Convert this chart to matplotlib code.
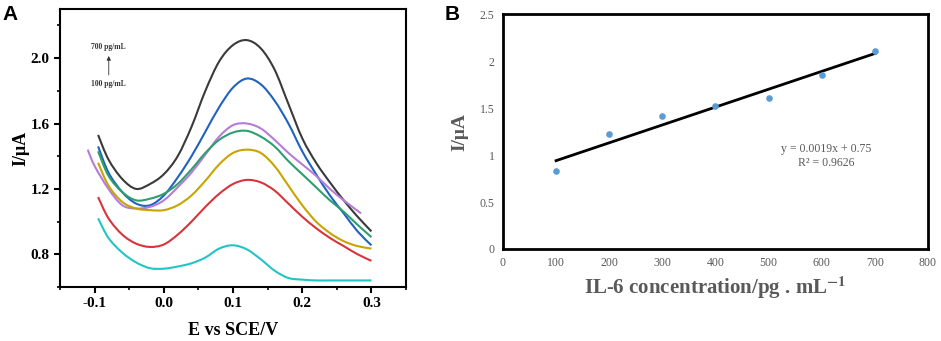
import numpy as np
import matplotlib
matplotlib.use("Agg")
import matplotlib.pyplot as plt
from matplotlib.path import Path
from matplotlib.patches import PathPatch

plt.rcParams["font.family"] = ["Liberation Serif", "DejaVu Serif"]
plt.rcParams["mathtext.fontset"] = "stix"

# ---- panel A : DPV curves ----
E = [-0.095, -0.08, -0.06, -0.04, -0.02, 0.0, 0.02, 0.04, 0.06, 0.08, 0.10,
     0.12, 0.14, 0.16, 0.18, 0.20, 0.22, 0.24, 0.26, 0.28, 0.30]
E_purple = [-0.11, -0.10, -0.08, -0.06, -0.04, -0.02, 0.0, 0.02, 0.04, 0.06, 0.08,
            0.10, 0.12, 0.14, 0.16, 0.18, 0.20, 0.22, 0.24, 0.26, 0.285]

i_black = [1.53, 1.38, 1.26, 1.20, 1.23, 1.29, 1.40, 1.58, 1.80, 1.98, 2.08,
           2.11, 2.06, 1.93, 1.72, 1.51, 1.36, 1.24, 1.13, 1.03, 0.94]
i_blue = [1.46, 1.30, 1.18, 1.11, 1.10, 1.16, 1.27, 1.40, 1.55, 1.70, 1.82,
          1.875, 1.84, 1.74, 1.60, 1.43, 1.29, 1.16, 1.05, 0.94, 0.855]
i_green = [1.43, 1.28, 1.18, 1.13, 1.14, 1.17, 1.23, 1.32, 1.42, 1.50, 1.545,
           1.555, 1.52, 1.46, 1.37, 1.29, 1.21, 1.13, 1.06, 0.98, 0.905]
i_purple = [1.44, 1.34, 1.20, 1.10, 1.08, 1.09, 1.13, 1.21, 1.30, 1.41, 1.52,
            1.59, 1.60, 1.57, 1.50, 1.42, 1.35, 1.28, 1.20, 1.13, 1.05]
i_gold = [1.36, 1.22, 1.12, 1.08, 1.07, 1.07, 1.10, 1.16, 1.25, 1.35, 1.42,
          1.44, 1.42, 1.34, 1.22, 1.10, 1.00, 0.93, 0.88, 0.85, 0.835]
i_red = [1.15, 1.02, 0.92, 0.865, 0.845, 0.86, 0.92, 1.00, 1.09, 1.17, 1.23,
         1.255, 1.24, 1.19, 1.11, 1.03, 0.96, 0.90, 0.85, 0.80, 0.76]
i_cyan = [1.02, 0.90, 0.81, 0.75, 0.715, 0.712, 0.725, 0.745, 0.78, 0.835, 0.855,
          0.83, 0.77, 0.70, 0.655, 0.645, 0.64, 0.64, 0.64, 0.64, 0.64]

# ---- panel B : calibration ----
conc = [100, 200, 300, 400, 500, 600, 700]
peak = [0.83, 1.22, 1.41, 1.52, 1.61, 1.85, 2.11]
slope, intercept = 0.0019, 0.75


def smooth_path(xs, ys):
	"""Bezier path through the points (Catmull-Rom style tangents)."""
	p = np.column_stack([xs, ys])
	verts = [p[0]]
	codes = [Path.MOVETO]
	for k in range(len(p) - 1):
		p0 = p[k - 1] if k > 0 else p[k]
		p3 = p[k + 2] if k + 2 < len(p) else p[k + 1]
		c1 = p[k] + (p[k + 1] - p0) / 6
		c2 = p[k + 1] - (p3 - p[k]) / 6
		verts += [c1, c2, p[k + 1]]
		codes += [Path.CURVE4] * 3
	return Path(verts, codes)


fig = plt.figure(figsize=(9.41, 3.41), dpi=100)

# panel A
ax1 = fig.add_axes([0.0638, 0.1584, 0.3677, 0.815])
curves = [(E, i_black, "#3a3a3a"), (E, i_blue, "#1f62c0"),
          (E_purple, i_purple, "#b57cd8"), (E, i_green, "#2e9e6e"),
          (E, i_gold, "#c9a400"), (E, i_red, "#d8343c"), (E, i_cyan, "#22c4c4")]
for xs, ys, c in curves:
	ax1.add_patch(PathPatch(smooth_path(xs, ys), facecolor="none",
	                        edgecolor=c, lw=1.5))
ax1.set_xlim(-0.15, 0.35)
ax1.set_ylim(0.6, 2.3)
ax1.set_xticks([-0.1, 0.0, 0.1, 0.2, 0.3])
ax1.set_xticks([-0.15, -0.05, 0.05, 0.15, 0.25, 0.35], minor=True)
ax1.set_yticks([0.8, 1.2, 1.6, 2.0])
ax1.set_yticks([0.6, 1.0, 1.4, 1.8, 2.2], minor=True)
ax1.set_xticklabels(["-0.1", "0.0", "0.1", "0.2", "0.3"])
ax1.set_yticklabels(["0.8", "1.2", "1.6", "2.0"])
for sp in ax1.spines.values():
	sp.set_linewidth(1.5)
ax1.tick_params(which="major", direction="out", length=4, width=1.5,
                labelsize=11, top=False, right=False)
ax1.tick_params(which="minor", direction="out", length=2.5, width=1.2)
for lab in ax1.get_xticklabels() + ax1.get_yticklabels():
	lab.set_fontweight("bold")
ax1.set_xlabel("E vs SCE/V", fontsize=13, fontweight="bold", labelpad=8)
ax1.set_ylabel("I/μA", fontsize=13, fontweight="bold", labelpad=1)

ax1.text(-0.0796, 2.07, "700 pg/mL", fontsize=5.5, fontweight="bold",
         ha="center", va="center", color="#333333")
ax1.text(-0.0796, 1.84, "100 pg/mL", fontsize=5.5, fontweight="bold",
         ha="center", va="center", color="#333333")
ax1.annotate("", xy=(-0.0796, 2.03), xytext=(-0.0796, 1.88),
             arrowprops=dict(arrowstyle="-|>", color="#333333", lw=0.6,
                             mutation_scale=6))

fig.text(0.003, 0.985, "A", fontsize=15, fontweight="bold",
         family="Liberation Sans", ha="left", va="top")
fig.text(0.472, 0.985, "B", fontsize=15, fontweight="bold",
         family="Liberation Sans", ha="left", va="top")

# panel B
ax2 = fig.add_axes([0.5345, 0.2698, 0.4516, 0.689])
ax2.scatter(conc, peak, s=14, color="#5b9bd5", zorder=3)
fit_x = np.array([conc[0], conc[-1]])
ax2.plot(fit_x, slope * fit_x + intercept, color="black", lw=2)
ax2.set_xlim(0, 800)
ax2.set_ylim(0, 2.5)
ax2.set_xticks(range(0, 801, 100))
ax2.set_yticks([0, 0.5, 1, 1.5, 2, 2.5])
ax2.set_yticklabels(["0", "0.5", "1", "1.5", "2", "2.5"])
for sp in ax2.spines.values():
	sp.set_linewidth(2)
ax2.tick_params(length=0, labelsize=8.5, labelcolor="#595959", pad=6)
ax2.text(608, 1.06, "y = 0.0019x + 0.75", fontsize=8.5, color="#595959",
         ha="center", va="center")
ax2.text(608, 0.92, "R² = 0.9626", fontsize=8.5, color="#595959",
         ha="center", va="center")
ax2.set_xlabel(r"IL-6 concentration/pg . mL$^{\mathbf{-1}}$", fontsize=15,
               fontweight="bold", color="#595959", labelpad=4)
ax2.set_ylabel("I/μA", fontsize=14, fontweight="bold", color="#595959",
               labelpad=8)

plt.savefig("out.png", dpi=100)
plt.close()
